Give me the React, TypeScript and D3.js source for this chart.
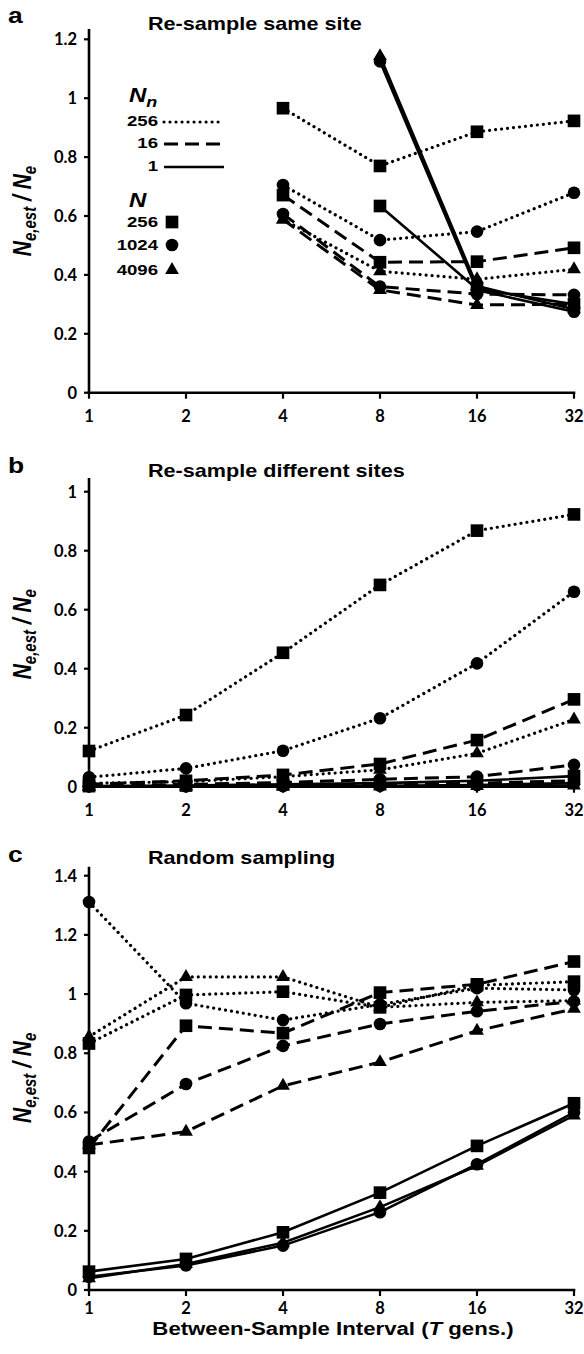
import React from 'react';
import * as d3 from 'd3';

// ---------- data ----------
const T = [1, 2, 4, 8, 16, 32];
const xTickLabels = ['1', '2', '4', '8', '16', '32'];

// Panel a: Re-sample same site (no estimates at T = 1, 2)
const aDotSquare = [null, null, 0.966, 0.770, 0.886, 0.923];
const aDotCircle = [null, null, 0.705, 0.518, 0.547, 0.679];
const aDotTriangle = [null, null, 0.588, 0.412, 0.385, 0.419];
const aDashSquare = [null, null, 0.671, 0.443, 0.445, 0.492];
const aDashCircle = [null, null, 0.607, 0.360, 0.335, 0.332];
const aDashTriangle = [null, null, 0.588, 0.349, 0.298, 0.300];
const aSolidSquare = [null, null, null, 0.634, 0.352, 0.300];
const aSolidCircle = [null, null, null, 1.125, 0.348, 0.275];
const aSolidTriangle = [null, null, null, 1.143, 0.362, 0.283];

// Panel b: Re-sample different sites
const bDotSquare = [0.121, 0.243, 0.454, 0.684, 0.868, 0.923];
const bDotCircle = [0.032, 0.062, 0.122, 0.232, 0.418, 0.661];
const bDotTriangle = [0.012, 0.017, 0.034, 0.057, 0.113, 0.228];
const bDashSquare = [0.008, 0.020, 0.040, 0.077, 0.158, 0.296];
const bDashCircle = [0.003, 0.008, 0.014, 0.025, 0.034, 0.074];
const bDashTriangle = [0.001, 0.003, 0.005, 0.008, 0.012, 0.020];
const bSolidSquare = [0.002, 0.004, 0.008, 0.012, 0.020, 0.036];
const bSolidCircle = [0.001, 0.001, 0.002, 0.003, 0.006, 0.012];
const bSolidTriangle = [0.000, 0.001, 0.001, 0.001, 0.002, 0.004];

// Panel c: Random sampling
const cDotSquare = [0.833, 0.997, 1.008, 0.955, 1.030, 1.042];
const cDotCircle = [1.311, 0.969, 0.912, 0.965, 1.020, 1.014];
const cDotTriangle = [0.856, 1.058, 1.058, 0.955, 0.972, 0.978];
const cDashSquare = [0.480, 0.893, 0.868, 1.005, 1.033, 1.110];
const cDashCircle = [0.502, 0.696, 0.825, 0.899, 0.942, 0.975];
const cDashTriangle = [0.490, 0.535, 0.690, 0.770, 0.876, 0.950];
const cSolidSquare = [0.062, 0.105, 0.195, 0.329, 0.487, 0.631];
const cSolidCircle = [0.045, 0.083, 0.150, 0.263, 0.425, 0.600];
const cSolidTriangle = [0.040, 0.088, 0.160, 0.280, 0.420, 0.590];

const aTicks = [0, 0.2, 0.4, 0.6, 0.8, 1, 1.2];
const bTicks = [0, 0.2, 0.4, 0.6, 0.8, 1];
const cTicks = [0, 0.2, 0.4, 0.6, 0.8, 1, 1.2, 1.4];

const legendNn = ['256', '16', '1'];
const legendN = ['256', '1024', '4096'];

// ---------- layout ----------
const W = 584;
const H = 1354;
const X0 = 89;
const X1 = 574;
const SX = 1.2; // horizontal stretch of Arial texts

const x = d3.scaleLog().base(2).domain([1, 32]).range([X0, X1]);

type Style = 'dot' | 'dash' | 'solid';
type Mark = 'square' | 'circle' | 'triangle';
interface Series { style: Style; mark: Mark; values: (number | null)[] }

const mk = (style: Style, mark: Mark, values: (number | null)[]): Series => ({ style, mark, values });

const panels = [
  {
    letter: 'a', title: 'Re-sample same site', yMax: 1.2, ticks: aTicks,
    y0: 392.7, yTop: 39.3, axisTop: 29, titleY: 29.5, letterY: 23, xLabOff: 23,
    series: [
      mk('dot', 'square', aDotSquare), mk('dot', 'circle', aDotCircle), mk('dot', 'triangle', aDotTriangle),
      mk('dash', 'square', aDashSquare), mk('dash', 'circle', aDashCircle), mk('dash', 'triangle', aDashTriangle),
      mk('solid', 'square', aSolidSquare), mk('solid', 'circle', aSolidCircle), mk('solid', 'triangle', aSolidTriangle),
    ],
  },
  {
    letter: 'b', title: 'Re-sample different sites', yMax: 1, ticks: bTicks,
    y0: 786.7, yTop: 491.7, axisTop: 478, titleY: 477, letterY: 473, xLabOff: 23,
    series: [
      mk('dot', 'square', bDotSquare), mk('dot', 'circle', bDotCircle), mk('dot', 'triangle', bDotTriangle),
      mk('dash', 'square', bDashSquare), mk('dash', 'circle', bDashCircle), mk('dash', 'triangle', bDashTriangle),
      mk('solid', 'square', bSolidSquare), mk('solid', 'circle', bSolidCircle), mk('solid', 'triangle', bSolidTriangle),
    ],
  },
  {
    letter: 'c', title: 'Random sampling', yMax: 1.4, ticks: cTicks,
    y0: 1290, yTop: 875.7, axisTop: 866.7, titleY: 864, letterY: 862, xLabOff: 18,
    series: [
      mk('dot', 'square', cDotSquare), mk('dot', 'circle', cDotCircle), mk('dot', 'triangle', cDotTriangle),
      mk('dash', 'square', cDashSquare), mk('dash', 'circle', cDashCircle), mk('dash', 'triangle', cDashTriangle),
      mk('solid', 'square', cSolidSquare), mk('solid', 'circle', cSolidCircle), mk('solid', 'triangle', cSolidTriangle),
    ],
  },
];

const ARIAL = "'Liberation Sans', Arial, sans-serif";
const TICKFONT = "Lato, 'Open Sans', sans-serif";

const strokeProps = (s: Style) => {
  if (s === 'dot') return { strokeWidth: 3.2, strokeDasharray: '0.01 6', strokeLinecap: 'round' as const };
  if (s === 'dash') return { strokeWidth: 3, strokeDasharray: '14 7', strokeLinecap: 'butt' as const };
  return { strokeWidth: 2.6, strokeDasharray: undefined, strokeLinecap: 'butt' as const };
};

const symbolPath = (m: Mark) => {
  if (m === 'square') return d3.symbol().type(d3.symbolSquare).size(160)()!;
  if (m === 'circle') return d3.symbol().type(d3.symbolCircle).size(125)()!;
  return d3.symbol().type(d3.symbolTriangle).size(82)()!;
};

function SText(props: { x: number; y: number; size: number; anchor?: string; italic?: boolean; children: React.ReactNode; baseline?: string }) {
  const { x: tx, y: ty, size, anchor = 'start', italic, children, baseline } = props;
  return (
    <text
      transform={`translate(${tx},${ty}) scale(${SX},1)`}
      fontFamily={ARIAL}
      fontWeight="bold"
      fontStyle={italic ? 'italic' : 'normal'}
      fontSize={size}
      textAnchor={anchor}
      dominantBaseline={baseline}
      fill="#000"
    >
      {children}
    </text>
  );
}

function Panel({ p }: { p: typeof panels[number] }) {
  const y = d3.scaleLinear().domain([0, p.yMax]).range([p.y0, p.yTop]);
  const line = d3
    .line<number | null>()
    .defined((d) => d != null)
    .x((_, i) => x(T[i]))
    .y((d) => y(d as number));
  const midY = (p.yTop + p.y0) / 2 - 5;
  return (
    <g>
      <SText x={8} y={p.letterY} size={22}>{p.letter}</SText>
      <SText x={148} y={p.titleY} size={18}>{p.title}</SText>

      {/* y axis title */}
      <text
        transform={`translate(31,${midY}) scale(${SX},1) rotate(-90)`}
        fontFamily={ARIAL}
        fontWeight="bold"
        fontStyle="italic"
        textAnchor="middle"
        fill="#000"
      >
        <tspan fontSize={21}>N</tspan>
        <tspan fontSize={15} dy={4}>e,est</tspan>
        <tspan fontSize={21} dy={-4}> / N</tspan>
        <tspan fontSize={15} dy={4}>e</tspan>
      </text>

      {/* axes */}
      <line x1={X0} x2={X0} y1={p.axisTop} y2={p.y0 + 1.2} stroke="#000" strokeWidth={2.6} />
      <line x1={X0 - 1.3} x2={X1 + 1.3} y1={p.y0} y2={p.y0} stroke="#000" strokeWidth={2.6} />
      {p.ticks.map((t) => (
        <g key={t}>
          <line x1={X0 - 5} x2={X0} y1={y(t)} y2={y(t)} stroke="#000" strokeWidth={2.2} />
          <text x={77} y={y(t)} dy="0.36em" textAnchor="end" fontFamily={TICKFONT} fontWeight="bold" fontSize={16.5} fill="#000">
            {String(t)}
          </text>
        </g>
      ))}
      {T.map((t, i) => (
        <g key={t}>
          <line x1={x(t)} x2={x(t)} y1={p.y0} y2={p.y0 + 6} stroke="#000" strokeWidth={2.2} />
          <text x={x(t)} y={p.y0 + p.xLabOff} dy="0.36em" textAnchor="middle" fontFamily={TICKFONT} fontWeight="bold" fontSize={16.5} fill="#000">
            {xTickLabels[i]}
          </text>
        </g>
      ))}

      {/* series */}
      {p.series.map((s, k) => {
        const sp = strokeProps(s.style);
        return (
          <g key={k}>
            <path d={line(s.values) || ''} fill="none" stroke="#000" {...sp} />
            {s.values.map((v, i) =>
              v == null ? null : (
                <path key={i} d={symbolPath(s.mark)} transform={`translate(${x(T[i])},${y(v)})`} fill="#000" />
              )
            )}
          </g>
        );
      })}
    </g>
  );
}

function Legend() {
  const rowsNn = [121, 143, 166];
  const styles: Style[] = ['dot', 'dash', 'solid'];
  const rowsN = [222, 245, 270];
  const marks: Mark[] = ['square', 'circle', 'triangle'];
  return (
    <g>
      <text transform={`translate(129,101.5) scale(${SX},1)`} fontFamily={ARIAL} fontWeight="bold" fontStyle="italic" fill="#000">
        <tspan fontSize={20}>N</tspan>
        <tspan fontSize={15} dy={5}>n</tspan>
      </text>
      {legendNn.map((lab, i) => {
        const sp = strokeProps(styles[i]);
        return (
          <g key={lab}>
            <SText x={158} y={rowsNn[i]} size={15.5} anchor="end" baseline="central">{lab}</SText>
            <line x1={164} x2={224} y1={rowsNn[i] + 1} y2={rowsNn[i] + 1} stroke="#000" {...sp} />
          </g>
        );
      })}
      <SText x={129} y={206.5} size={20} italic>N</SText>
      {legendN.map((lab, i) => (
        <g key={lab}>
          <SText x={158} y={rowsN[i]} size={15.5} anchor="end" baseline="central">{lab}</SText>
          <path d={symbolPath(marks[i])} transform={`translate(172,${rowsN[i]})`} fill="#000" />
        </g>
      ))}
    </g>
  );
}

export default function App() {
  return (
    <svg
      width={W}
      height={H}
      viewBox={`0 0 ${W} ${H}`}
      style={{ position: 'absolute', left: 0, top: 0, background: '#fff' }}
    >
      <rect x={0} y={0} width={W} height={H} fill="#fff" />
      {panels.map((p) => (
        <Panel key={p.letter} p={p} />
      ))}
      <Legend />
      <SText x={333} y={1335} size={18.5} anchor="middle">
        Between-Sample Interval (<tspan fontStyle="italic">T</tspan> gens.)
      </SText>
    </svg>
  );
}
